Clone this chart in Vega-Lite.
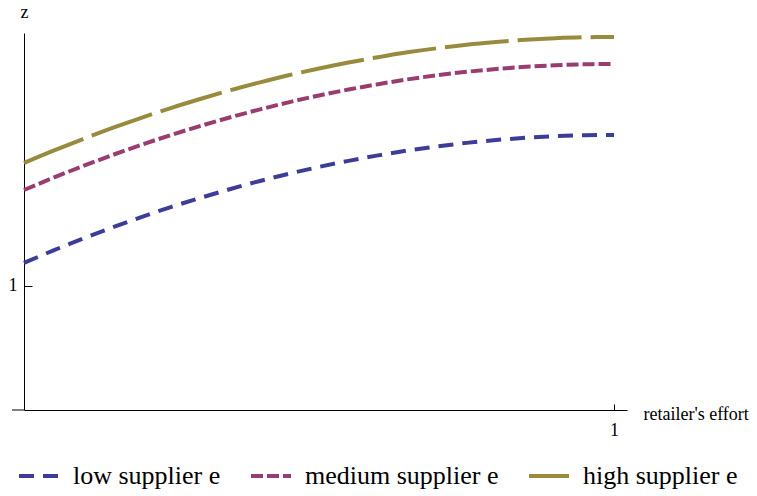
{
  "$schema": "https://vega.github.io/schema/vega-lite/v6.json",
  "width": 603,
  "height": 377,
  "autosize": "none",
  "padding": {"left": 24, "top": 33, "right": 130, "bottom": 86},
  "background": "white",
  "config": {
    "view": {"stroke": null},
    "font": "Liberation Serif, Times New Roman, DejaVu Serif, serif",
    "axis": {"grid": false, "domainColor": "black", "domainWidth": 1, "tickColor": "black", "tickWidth": 1, "labelColor": "black", "titleColor": "black", "labelFont": "Liberation Serif, Times New Roman, DejaVu Serif, serif", "titleFont": "Liberation Serif, Times New Roman, DejaVu Serif, serif", "labelFontSize": 18, "titleFontSize": 18, "titleFontWeight": "normal"},
    "legend": {"labelFont": "Liberation Serif, Times New Roman, DejaVu Serif, serif", "labelLimit": 0}
  },
  "datasets": {
    "curves": [
      {"t": 0.00, "z": 1.0186, "series": "low supplier e"},
      {"t": 0.05, "z": 1.0287, "series": "low supplier e"},
      {"t": 0.10, "z": 1.0382, "series": "low supplier e"},
      {"t": 0.15, "z": 1.0472, "series": "low supplier e"},
      {"t": 0.20, "z": 1.0558, "series": "low supplier e"},
      {"t": 0.25, "z": 1.0638, "series": "low supplier e"},
      {"t": 0.30, "z": 1.0712, "series": "low supplier e"},
      {"t": 0.35, "z": 1.0782, "series": "low supplier e"},
      {"t": 0.40, "z": 1.0847, "series": "low supplier e"},
      {"t": 0.45, "z": 1.0906, "series": "low supplier e"},
      {"t": 0.50, "z": 1.0960, "series": "low supplier e"},
      {"t": 0.55, "z": 1.1009, "series": "low supplier e"},
      {"t": 0.60, "z": 1.1053, "series": "low supplier e"},
      {"t": 0.65, "z": 1.1092, "series": "low supplier e"},
      {"t": 0.70, "z": 1.1125, "series": "low supplier e"},
      {"t": 0.75, "z": 1.1154, "series": "low supplier e"},
      {"t": 0.80, "z": 1.1177, "series": "low supplier e"},
      {"t": 0.85, "z": 1.1195, "series": "low supplier e"},
      {"t": 0.90, "z": 1.1208, "series": "low supplier e"},
      {"t": 0.95, "z": 1.1215, "series": "low supplier e"},
      {"t": 1.00, "z": 1.1218, "series": "low supplier e"},
      {"t": 0.00, "z": 1.0774, "series": "medium supplier e"},
      {"t": 0.05, "z": 1.0873, "series": "medium supplier e"},
      {"t": 0.10, "z": 1.0967, "series": "medium supplier e"},
      {"t": 0.15, "z": 1.1056, "series": "medium supplier e"},
      {"t": 0.20, "z": 1.1140, "series": "medium supplier e"},
      {"t": 0.25, "z": 1.1219, "series": "medium supplier e"},
      {"t": 0.30, "z": 1.1292, "series": "medium supplier e"},
      {"t": 0.35, "z": 1.1361, "series": "medium supplier e"},
      {"t": 0.40, "z": 1.1424, "series": "medium supplier e"},
      {"t": 0.45, "z": 1.1483, "series": "medium supplier e"},
      {"t": 0.50, "z": 1.1536, "series": "medium supplier e"},
      {"t": 0.55, "z": 1.1584, "series": "medium supplier e"},
      {"t": 0.60, "z": 1.1627, "series": "medium supplier e"},
      {"t": 0.65, "z": 1.1666, "series": "medium supplier e"},
      {"t": 0.70, "z": 1.1699, "series": "medium supplier e"},
      {"t": 0.75, "z": 1.1727, "series": "medium supplier e"},
      {"t": 0.80, "z": 1.1749, "series": "medium supplier e"},
      {"t": 0.85, "z": 1.1767, "series": "medium supplier e"},
      {"t": 0.90, "z": 1.1780, "series": "medium supplier e"},
      {"t": 0.95, "z": 1.1788, "series": "medium supplier e"},
      {"t": 1.00, "z": 1.1790, "series": "medium supplier e"},
      {"t": 0.00, "z": 1.0992, "series": "high supplier e"},
      {"t": 0.05, "z": 1.1091, "series": "high supplier e"},
      {"t": 0.10, "z": 1.1185, "series": "high supplier e"},
      {"t": 0.15, "z": 1.1274, "series": "high supplier e"},
      {"t": 0.20, "z": 1.1358, "series": "high supplier e"},
      {"t": 0.25, "z": 1.1437, "series": "high supplier e"},
      {"t": 0.30, "z": 1.1510, "series": "high supplier e"},
      {"t": 0.35, "z": 1.1579, "series": "high supplier e"},
      {"t": 0.40, "z": 1.1642, "series": "high supplier e"},
      {"t": 0.45, "z": 1.1701, "series": "high supplier e"},
      {"t": 0.50, "z": 1.1754, "series": "high supplier e"},
      {"t": 0.55, "z": 1.1802, "series": "high supplier e"},
      {"t": 0.60, "z": 1.1845, "series": "high supplier e"},
      {"t": 0.65, "z": 1.1884, "series": "high supplier e"},
      {"t": 0.70, "z": 1.1917, "series": "high supplier e"},
      {"t": 0.75, "z": 1.1945, "series": "high supplier e"},
      {"t": 0.80, "z": 1.1967, "series": "high supplier e"},
      {"t": 0.85, "z": 1.1985, "series": "high supplier e"},
      {"t": 0.90, "z": 1.1998, "series": "high supplier e"},
      {"t": 0.95, "z": 1.2006, "series": "high supplier e"},
      {"t": 1.00, "z": 1.2008, "series": "high supplier e"}
    ],
    "axisext": [{"t": -0.0203, "t2": 0, "z": 0.9}]
  },
  "layer": [
    {
      "data": {"name": "axisext"},
      "mark": {"type": "rule", "color": "black", "strokeWidth": 1},
      "encoding": {
        "x": {"field": "t", "type": "quantitative", "scale": {"domain": [0, 1.022], "nice": false, "zero": false}},
        "x2": {"field": "t2"},
        "y": {"field": "z", "type": "quantitative", "scale": {"domain": [0.9, 1.204], "nice": false, "zero": false}}
      }
    },
    {
      "data": {"name": "curves"},
      "mark": {"type": "line", "strokeWidth": 4, "interpolate": "monotone", "strokeCap": "butt"},
      "encoding": {
        "x": {
          "field": "t", "type": "quantitative",
          "scale": {"domain": [0, 1.022], "nice": false, "zero": false},
          "axis": {"values": [1], "tickSize": -6, "labelPadding": 17, "title": "retailer's effort", "titleAngle": 0, "titleAlign": "left", "titleBaseline": "alphabetic", "titleX": 619, "titleY": 9, "format": "d"}
        },
        "y": {
          "field": "z", "type": "quantitative",
          "scale": {"domain": [0.9, 1.204], "nice": false, "zero": false},
          "axis": {"values": [1], "tickSize": -8, "labelPadding": 15, "title": "z", "titleAngle": 0, "titleAlign": "center", "titleBaseline": "middle", "titleX": 0, "titleY": -21, "format": "d"}
        },
        "color": {
          "field": "series", "type": "nominal",
          "scale": {"domain": ["low supplier e", "medium supplier e", "high supplier e"], "range": ["#3D3D99", "#993D71", "#998B3D"]},
          "legend": {"title": null, "orient": "none", "direction": "horizontal", "legendX": -7, "legendY": 421, "symbolType": "stroke", "symbolSize": 1600, "symbolStrokeWidth": 4, "labelFont": "Liberation Serif, Times New Roman, DejaVu Serif, serif", "labelFontSize": 26, "labelLimit": 0, "labelColor": "black", "labelOffset": 12, "columnPadding": 22, "padding": 0}
        },
        "strokeDash": {
          "field": "series", "type": "nominal",
          "scale": {"domain": ["low supplier e", "medium supplier e", "high supplier e"], "range": [[15, 9], [12, 4], [64, 9]]},
          "legend": null
        }
      }
    }
  ]
}
